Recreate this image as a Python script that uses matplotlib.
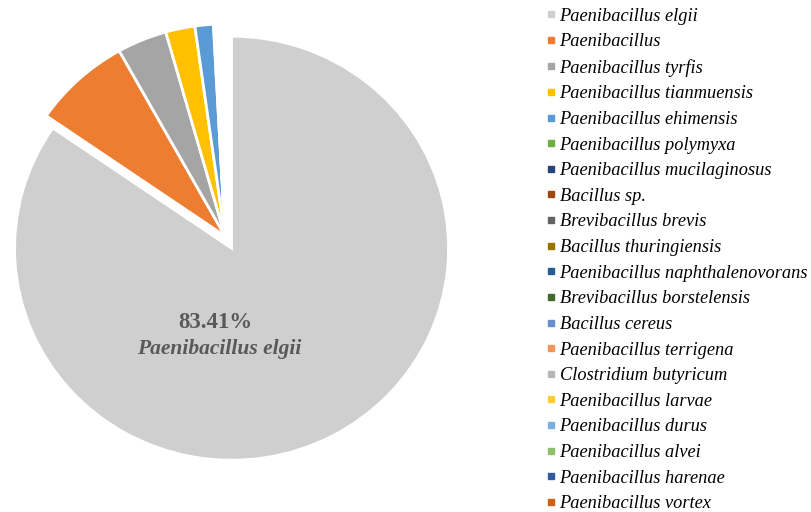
import matplotlib.pyplot as plt
from matplotlib.lines import Line2D

# ---- datos ----
especies = [
    "Paenibacillus elgii",
    "Paenibacillus",
    "Paenibacillus tyrfis",
    "Paenibacillus tianmuensis",
    "Paenibacillus ehimensis",
    "Paenibacillus polymyxa",
    "Paenibacillus mucilaginosus",
    "Bacillus sp.",
    "Brevibacillus brevis",
    "Bacillus thuringiensis",
    "Paenibacillus naphthalenovorans",
    "Brevibacillus borstelensis",
    "Bacillus cereus",
    "Paenibacillus terrigena",
    "Clostridium butyricum",
    "Paenibacillus larvae",
    "Paenibacillus durus",
    "Paenibacillus alvei",
    "Paenibacillus harenae",
    "Paenibacillus vortex",
]
porcentajes = [83.41, 7.20, 3.65, 2.15, 1.35, 0.08, 0.07, 0.07, 0.06, 0.06,
               0.06, 0.06, 0.05, 0.05, 0.05, 0.05, 0.05, 0.05, 0.04, 0.04]
colores = ["#CFCFCF", "#ED7D31", "#A5A5A5", "#FFC000", "#5B9BD5",
           "#70AD47", "#264478", "#9E480E", "#636363", "#997300",
           "#255E91", "#43682B", "#698ED0", "#F1975A", "#B7B7B7",
           "#FFCD33", "#7CAFDD", "#8CC168", "#335AA1", "#D26012"]

W, H = 811, 512
fig = plt.figure(figsize=(W / 100, H / 100), dpi=100)

# ejes del pastel en pixeles: centro sin explotar
cx, cy = 225, 236
rx, ry = 217, 212
lim = 1.15
ax = fig.add_axes([(cx - lim * rx) / W, (H - cy - lim * ry) / H,
                   2 * lim * rx / W, 2 * lim * ry / H])

explode = [0.065] + [0] * (len(porcentajes) - 1)
wedges, _ = ax.pie(porcentajes, colors=colores, startangle=90,
                   counterclock=False, explode=explode,
                   wedgeprops=dict(edgecolor="white", linewidth=2))
ax.set_xlim(-lim, lim)
ax.set_ylim(-lim, lim)
ax.set_aspect("auto")
ax.axis("off")

# etiqueta del sector principal
fig.text(215 / W, 1 - 323 / H, f"{porcentajes[0]:.2f}%", ha="center",
         va="center", fontsize=16.5, fontweight="bold",
         family="Liberation Serif", color="#595959")
fig.text(219 / W, 1 - 349 / H, especies[0], ha="center", va="center",
         fontsize=15.5, fontweight="bold", fontstyle="italic",
         family="Liberation Serif", color="#595959")

# leyenda
handles = [Line2D([], [], marker="s", linestyle="none", markersize=5,
                  markerfacecolor=c, markeredgecolor=c) for c in colores]
leg = fig.legend(handles, especies, loc="upper left",
                 bbox_to_anchor=(543 / W, 1 - 4 / H), frameon=False,
                 borderaxespad=0, borderpad=0.2,
                 handlelength=0.5, handletextpad=0.2, labelspacing=0.47,
                 prop=dict(family="Liberation Serif", style="italic",
                           size=13.2))

fig.savefig("out.png", dpi=100)
